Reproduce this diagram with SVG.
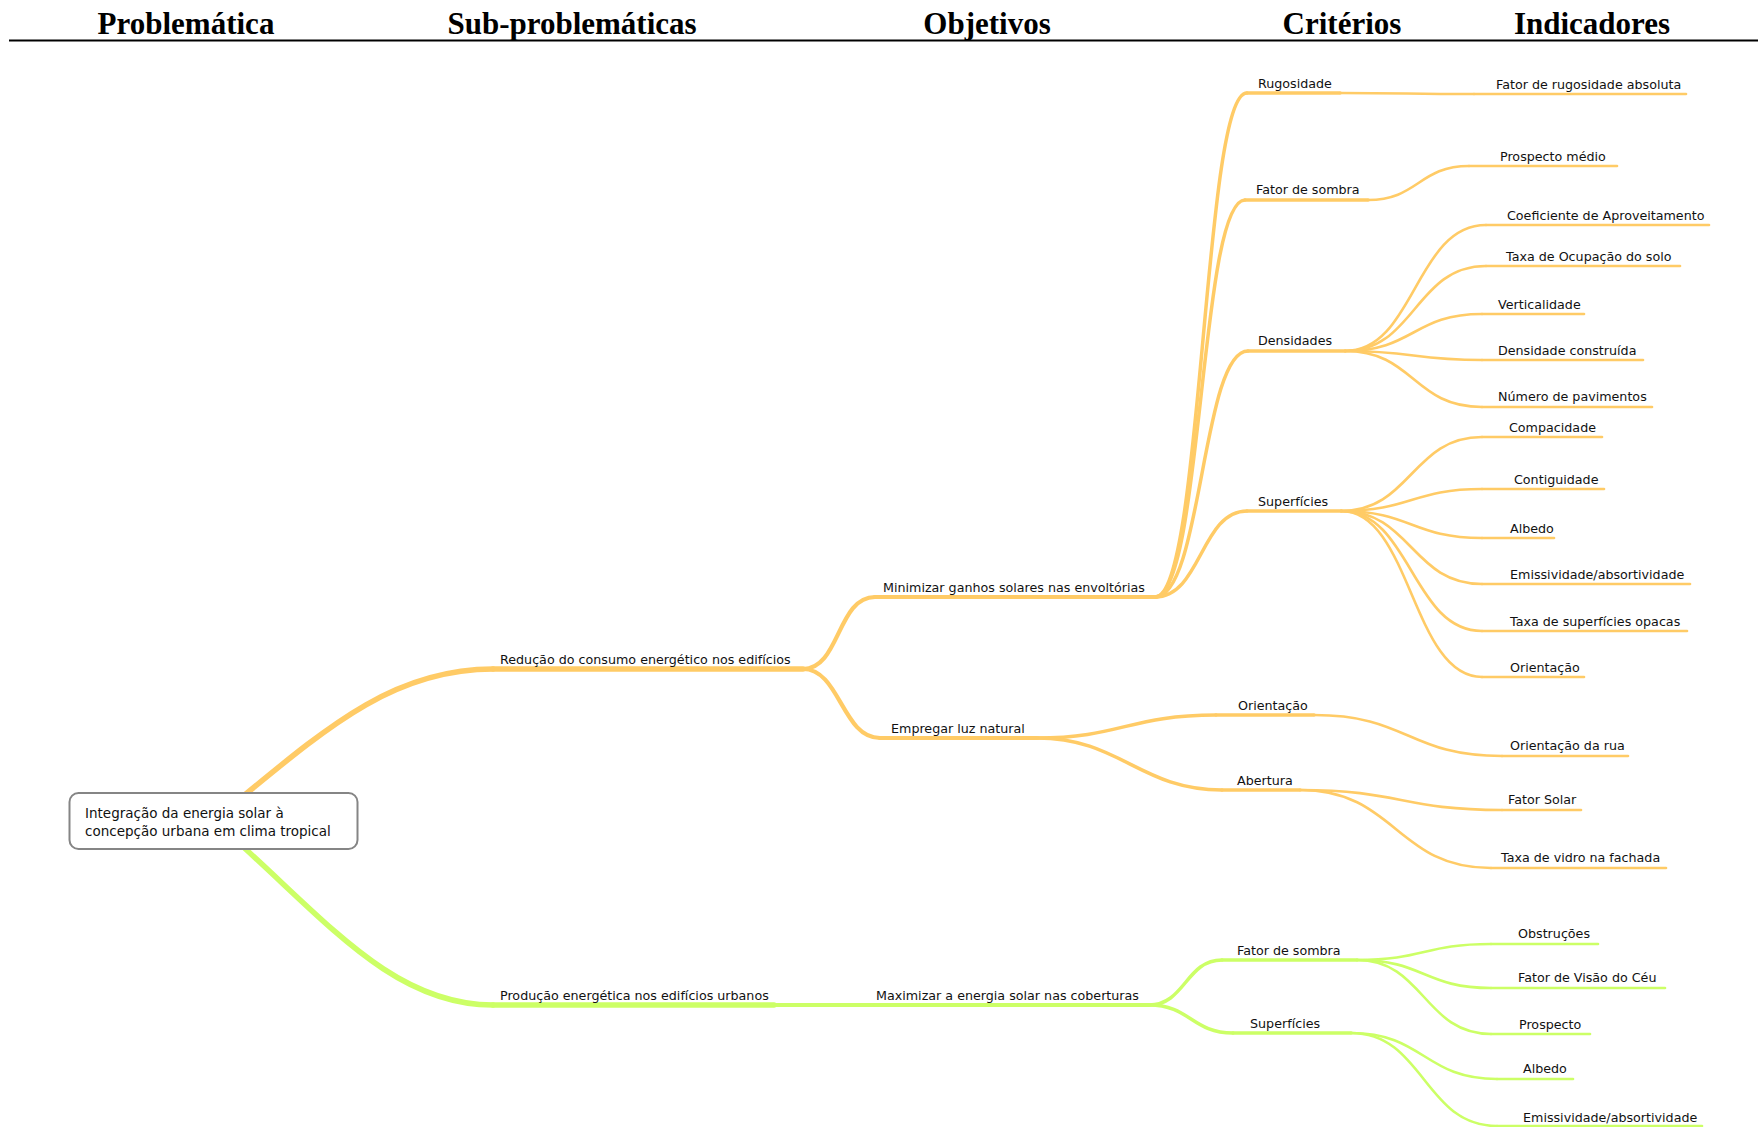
<svg xmlns="http://www.w3.org/2000/svg" width="1758" height="1127" viewBox="0 0 1758 1127">
<style>
.hdr{font-family:"Liberation Serif","DejaVu Serif",serif;font-weight:bold;font-size:31px;fill:#000;text-anchor:middle}
.lbl{font-family:"DejaVu Sans","Noto Sans",sans-serif;font-size:12.7px;fill:#111}
.root{font-family:"DejaVu Sans","Noto Sans",sans-serif;font-size:13.5px;fill:#111}
.o{stroke:#FFCB66;fill:none;stroke-linecap:round}
.g{stroke:#CCFF66;fill:none;stroke-linecap:round}
.w1{stroke-width:5.5}
.w2{stroke-width:4.2}
.w3{stroke-width:3.5}
.w4{stroke-width:2.6}
</style>
<rect width="1758" height="1127" fill="#fff"/>
<g id="header">
<text class="hdr" x="186" y="34">Problemática</text>
<text class="hdr" x="572" y="34">Sub-problemáticas</text>
<text class="hdr" x="987" y="34">Objetivos</text>
<text class="hdr" x="1342" y="34">Critérios</text>
<text class="hdr" x="1592" y="34">Indicadores</text>
<line x1="9" y1="40.5" x2="1758" y2="40.5" stroke="#000" stroke-width="2.2"/>
</g>
<g id="connectors">
<path class="o w1" d="M230,807 C325,729 392,669 493,669"/>
<path class="g w1" d="M230,835 C325,919 392,1005 493,1005"/>
<path class="g w2" d="M774,1005 L875,1005"/>
<path class="o w2" d="M803,669 C840,669 837,597 875,597"/>
<path class="o w2" d="M803,669 C840,669 842,738 880,738"/>
<path class="o w3" d="M1155,597 C1203,597 1203,93 1247,93"/>
<path class="o w3" d="M1155,597 C1202,597 1200,200 1245,200"/>
<path class="o w3" d="M1155,597 C1202,597 1202,351 1248,351"/>
<path class="o w3" d="M1155,597 C1201,597 1201,511 1247,511"/>
<path class="o w3" d="M1037,738 C1120,738 1130,715 1216,715"/>
<path class="o w3" d="M1037,738 C1120,738 1140,790 1222,790"/>
<path class="g w3" d="M1149,1005 C1185,1005 1186,960 1222,960"/>
<path class="g w3" d="M1149,1005 C1190,1005 1192,1033 1233,1033"/>
<path class="o w4" d="M1340,93 C1407,93 1407,94 1474,94"/>
<path class="o w4" d="M1368,200 C1418,200 1419,166 1469,166"/>
<path class="o w4" d="M1345,351 C1415,351 1415,225 1486,225"/>
<path class="o w4" d="M1345,351 C1415,351 1415,266 1486,266"/>
<path class="o w4" d="M1345,351 C1414,351 1413,314 1482,314"/>
<path class="o w4" d="M1345,351 C1414,351 1413,360 1482,360"/>
<path class="o w4" d="M1345,351 C1414,351 1413,407 1482,407"/>
<path class="o w4" d="M1341,511 C1411,511 1412,437 1482,437"/>
<path class="o w4" d="M1341,511 C1411,511 1412,489 1482,489"/>
<path class="o w4" d="M1341,511 C1411,511 1412,538 1482,538"/>
<path class="o w4" d="M1341,511 C1411,511 1412,584 1482,584"/>
<path class="o w4" d="M1341,511 C1411,511 1412,631 1482,631"/>
<path class="o w4" d="M1341,511 C1411,511 1412,677 1482,677"/>
<path class="o w4" d="M1314,715 C1408,715 1408,756 1502,756"/>
<path class="o w4" d="M1300,790 C1401,790 1401,810 1502,810"/>
<path class="o w4" d="M1300,790 C1396,790 1396,868 1491,868"/>
<path class="g w4" d="M1357,960 C1424,960 1424,944 1491,944"/>
<path class="g w4" d="M1357,960 C1424,960 1424,988 1491,988"/>
<path class="g w4" d="M1357,960 C1424,960 1424,1034 1491,1034"/>
<path class="g w4" d="M1351,1033 C1424,1033 1424,1079 1497,1079"/>
<path class="g w4" d="M1351,1033 C1424,1033 1424,1126 1497,1126"/>
</g>
<g id="n-root">
<rect x="69.5" y="793" width="288" height="56" rx="9" fill="#fff" stroke="#858585" stroke-width="2"/>
<text class="root" x="85" y="818">Integração da energia solar à</text>
<text class="root" x="85" y="836">concepção urbana em clima tropical</text>
</g>
<g id="n-reducao"><path class="o w1" d="M493,669 H803"/><text class="lbl" x="500" y="664">Redução do consumo energético nos edifícios</text></g>
<g id="n-producao"><path class="g w1" d="M493,1005 H774"/><text class="lbl" x="500" y="1000">Produção energética nos edifícios urbanos</text></g>
<g id="n-minimizar"><path class="o w2" d="M875,597 H1155"/><text class="lbl" x="883" y="592">Minimizar ganhos solares nas envoltórias</text></g>
<g id="n-empregar"><path class="o w2" d="M880,738 H1037"/><text class="lbl" x="891" y="733">Empregar luz natural</text></g>
<g id="n-maximizar"><path class="g w2" d="M875,1005 H1149"/><text class="lbl" x="876" y="1000">Maximizar a energia solar nas coberturas</text></g>
<g id="n-rugosidade"><path class="o w3" d="M1247,93 H1340"/><text class="lbl" x="1258" y="88">Rugosidade</text></g>
<g id="n-fatorsombra1"><path class="o w3" d="M1245,200 H1368"/><text class="lbl" x="1256" y="194">Fator de sombra</text></g>
<g id="n-densidades"><path class="o w3" d="M1248,351 H1345"/><text class="lbl" x="1258" y="345">Densidades</text></g>
<g id="n-superficies1"><path class="o w3" d="M1247,511 H1341"/><text class="lbl" x="1258" y="506">Superfícies</text></g>
<g id="n-orientacao1"><path class="o w3" d="M1216,715 H1314"/><text class="lbl" x="1238" y="710">Orientação</text></g>
<g id="n-abertura"><path class="o w3" d="M1222,790 H1300"/><text class="lbl" x="1237" y="785">Abertura</text></g>
<g id="n-fatorsombra2"><path class="g w3" d="M1222,960 H1357"/><text class="lbl" x="1237" y="955">Fator de sombra</text></g>
<g id="n-superficies2"><path class="g w3" d="M1233,1033 H1351"/><text class="lbl" x="1250" y="1028">Superfícies</text></g>
<g id="i-rugabs"><path class="o w4" d="M1474,94 H1686"/><text class="lbl" x="1496" y="89">Fator de rugosidade absoluta</text></g>
<g id="i-prospmedio"><path class="o w4" d="M1469,166 H1617"/><text class="lbl" x="1500" y="161">Prospecto médio</text></g>
<g id="i-coef"><path class="o w4" d="M1486,225 H1709"/><text class="lbl" x="1507" y="220">Coeficiente de Aproveitamento</text></g>
<g id="i-taxaocup"><path class="o w4" d="M1486,266 H1680"/><text class="lbl" x="1506" y="261">Taxa de Ocupação do solo</text></g>
<g id="i-vert"><path class="o w4" d="M1482,314 H1584"/><text class="lbl" x="1498" y="309">Verticalidade</text></g>
<g id="i-denscons"><path class="o w4" d="M1482,360 H1643"/><text class="lbl" x="1498" y="355">Densidade construída</text></g>
<g id="i-numpav"><path class="o w4" d="M1482,407 H1652"/><text class="lbl" x="1498" y="401">Número de pavimentos</text></g>
<g id="i-compac"><path class="o w4" d="M1482,437 H1602"/><text class="lbl" x="1509" y="432">Compacidade</text></g>
<g id="i-contig"><path class="o w4" d="M1482,489 H1604"/><text class="lbl" x="1514" y="484">Contiguidade</text></g>
<g id="i-albedo1"><path class="o w4" d="M1482,538 H1554"/><text class="lbl" x="1510" y="533">Albedo</text></g>
<g id="i-emiss1"><path class="o w4" d="M1482,584 H1690"/><text class="lbl" x="1510" y="579">Emissividade/absortividade</text></g>
<g id="i-taxaopac"><path class="o w4" d="M1482,631 H1687"/><text class="lbl" x="1510" y="626">Taxa de superfícies opacas</text></g>
<g id="i-orient2"><path class="o w4" d="M1482,677 H1584"/><text class="lbl" x="1510" y="672">Orientação</text></g>
<g id="i-orientrua"><path class="o w4" d="M1502,756 H1628"/><text class="lbl" x="1510" y="750">Orientação da rua</text></g>
<g id="i-fatorsolar"><path class="o w4" d="M1502,810 H1581"/><text class="lbl" x="1508" y="804">Fator Solar</text></g>
<g id="i-taxavidro"><path class="o w4" d="M1491,868 H1666"/><text class="lbl" x="1501" y="862">Taxa de vidro na fachada</text></g>
<g id="i-obstr"><path class="g w4" d="M1491,944 H1598"/><text class="lbl" x="1518" y="938">Obstruções</text></g>
<g id="i-fvc"><path class="g w4" d="M1491,988 H1665"/><text class="lbl" x="1518" y="982">Fator de Visão do Céu</text></g>
<g id="i-prosp"><path class="g w4" d="M1491,1034 H1590"/><text class="lbl" x="1519" y="1029">Prospecto</text></g>
<g id="i-albedo2"><path class="g w4" d="M1497,1079 H1573"/><text class="lbl" x="1523" y="1073">Albedo</text></g>
<g id="i-emiss2"><path class="g w4" d="M1497,1126 H1702"/><text class="lbl" x="1523" y="1122">Emissividade/absortividade</text></g>
</svg>
